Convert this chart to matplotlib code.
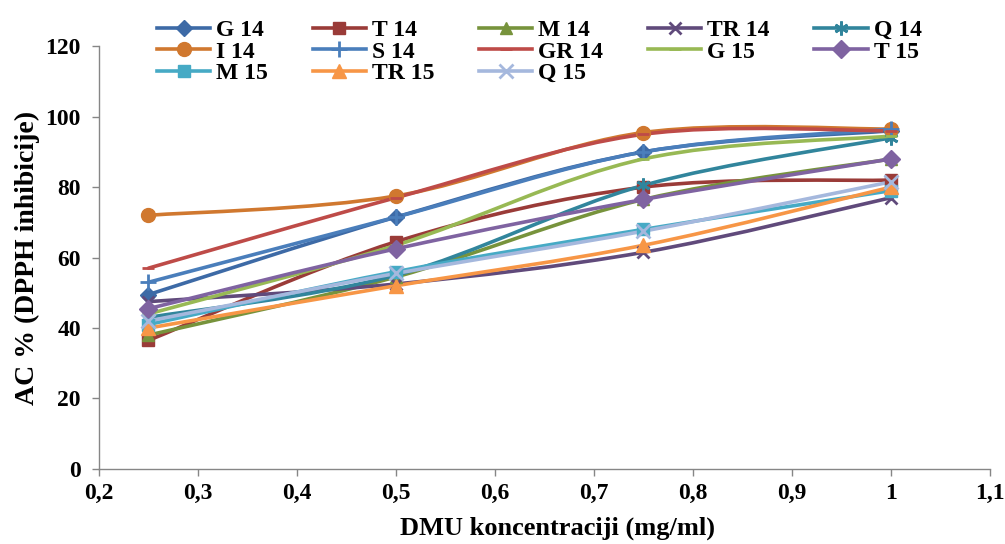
import matplotlib
matplotlib.use("Agg")
import matplotlib.pyplot as plt
from matplotlib.path import Path
from matplotlib.patches import PathPatch
from matplotlib.lines import Line2D
import numpy as np

plt.rcParams['font.family'] = ['Liberation Serif', 'DejaVu Serif']
plt.rcParams['font.weight'] = 'bold'

x_vals = [0.25, 0.5, 0.75, 1.0]

labels = ["G 14", "T 14", "M 14", "TR 14", "Q 14", "I 14", "S 14", "GR 14",
          "G 15", "T 15", "M 15", "TR 15", "Q 15"]

g14 = [49.5, 71.5, 90.0, 96.0]
t14 = [36.5, 64.5, 80.0, 82.0]
m14 = [38.0, 54.5, 76.5, 88.0]
tr14 = [47.5, 52.5, 61.5, 77.0]
q14 = [43.0, 55.0, 80.5, 94.0]
i14 = [72.0, 77.5, 95.5, 96.5]
s14 = [53.0, 71.5, 90.0, 96.5]
gr14 = [57.0, 77.0, 95.0, 96.0]
g15 = [44.0, 63.5, 88.0, 94.5]
t15 = [45.5, 62.5, 76.5, 88.0]
m15 = [41.0, 56.0, 68.0, 79.0]
tr15 = [40.0, 52.0, 63.5, 80.0]
q15 = [42.0, 55.5, 67.5, 81.5]

series = [g14, t14, m14, tr14, q14, i14, s14, gr14, g15, t15, m15, tr15, q15]

colors = ["#3D6AA6", "#9A3B38", "#77933C", "#604A7B", "#31859C", "#D0782F",
          "#4A7EBB", "#BE4B48", "#98B954", "#7F63A1", "#46AAC5", "#F79646", "#A5B8DD"]
markers = ["D", "s", "^", "x", (6, 2, 0), "o", "+", "_", "_", "D", "s", "^", "x"]
msizes = [8, 9, 9, 9, 10, 10, 11, 9, 9, 9, 9, 10, 10]

fig = plt.figure(figsize=(10.05, 5.44), dpi=100)
ax = fig.add_axes([0.0985, 0.138, 0.8865, 0.777])


def smooth_path(xs, ys):
    pts = np.column_stack([xs, ys])
    n = len(pts)
    verts = [pts[0]]
    codes = [Path.MOVETO]
    for i in range(n - 1):
        p0 = pts[i - 1] if i > 0 else pts[i]
        p1 = pts[i]
        p2 = pts[i + 1]
        p3 = pts[i + 2] if i + 2 < n else pts[i + 1]
        c1 = p1 + (p2 - p0) / 6.0
        c2 = p2 - (p3 - p1) / 6.0
        verts += [c1, c2, p2]
        codes += [Path.CURVE4] * 3
    return Path(verts, codes)


handles = []
for i, (lab, ys) in enumerate(zip(labels, series)):
    c = colors[i]
    patch = PathPatch(smooth_path(x_vals, ys), facecolor='none', edgecolor=c,
                      lw=2.6, zorder=2 + i * 0.01, capstyle='round')
    ax.add_patch(patch)
    mew = 2.0 if markers[i] in ("x", "+", "_", (6, 2, 0)) else 1.0
    ax.plot(x_vals, ys, linestyle='none', marker=markers[i], ms=msizes[i],
            color=c, mec=c, mew=mew, zorder=3 + i * 0.01)
    h = Line2D([], [], color=c, lw=2.6, marker=markers[i], ms=msizes[i],
               mec=c, mew=mew)
    handles.append(h)

ax.set_xlim(0.2, 1.1)
ax.set_ylim(0, 120)
xt = np.round(np.arange(0.2, 1.1001, 0.1), 1)
ax.set_xticks(xt)
ax.set_xticklabels([("%g" % v).replace(".", ",") for v in xt])
ax.set_yticks(range(0, 121, 20))
for s in ["top", "right"]:
    ax.spines[s].set_visible(False)
for s in ["left", "bottom"]:
    ax.spines[s].set_color("#868686")
    ax.spines[s].set_linewidth(1.0)
ax.tick_params(axis='both', colors="#868686", labelcolor="black",
               labelsize=17, length=5, width=1, direction='out')
ax.tick_params(axis='y', pad=8)
ax.tick_params(axis='x', pad=5)
for lab in ax.get_xticklabels() + ax.get_yticklabels():
    lab.set_fontweight('bold')

ax.set_xlabel("DMU koncentraciji (mg/ml)", fontsize=19, fontweight='bold')
ax.xaxis.set_label_coords(0.515, -0.112)
ax.set_ylabel("AC % (DPPH inhibicije)", fontsize=20, fontweight='bold', labelpad=4)

# order for column-wise fill in 5 columns
order = [0, 5, 10, 1, 6, 11, 2, 7, 12, 3, 8, 4, 9]
leg = fig.legend([handles[k] for k in order], [labels[k] for k in order],
                 ncol=5, loc='upper left', bbox_to_anchor=(0.141, 0.992),
                 frameon=False, handlelength=2.25,
                 handletextpad=0.25, columnspacing=1.9, labelspacing=0.0,
                 borderpad=0.15, prop={'weight': 'bold', 'size': 17})

fig.savefig("out.png", dpi=100)
